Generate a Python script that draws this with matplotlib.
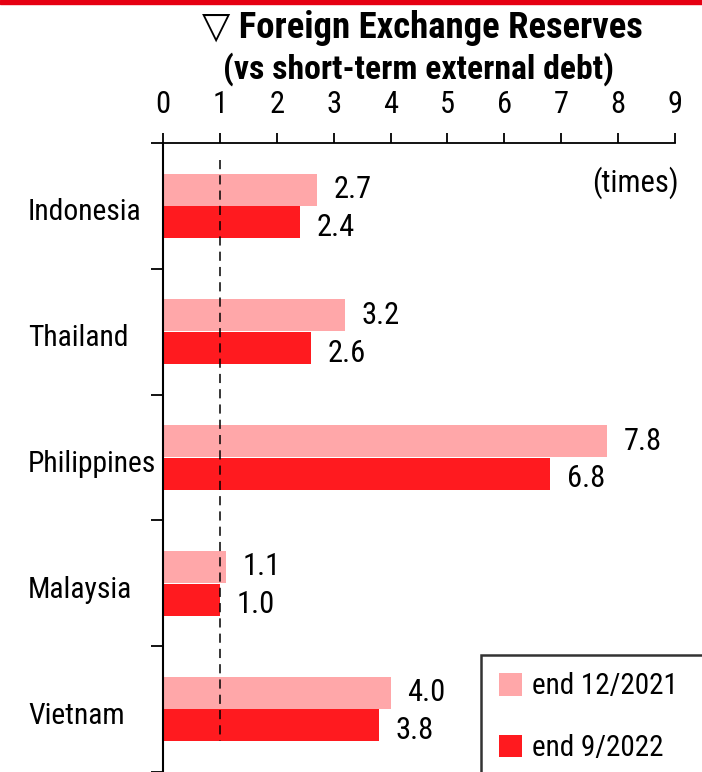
import matplotlib
matplotlib.use("Agg")
import matplotlib.pyplot as plt
from matplotlib.font_manager import fontManager
import numpy as np

names = {f.name for f in fontManager.ttflist}
prefs = ['Liberation Sans Narrow', 'Arial Narrow', 'Roboto Condensed', 'Archivo Narrow',
         'PT Sans Narrow', 'Pragati Narrow', 'Liberation Sans']
main = next(p for p in prefs if p in names)
FONT = [main, 'DejaVu Sans']
plt.rcParams['font.family'] = FONT

countries = ["Indonesia", "Thailand", "Philippines", "Malaysia", "Vietnam"]
end_2021 = [2.7, 3.2, 7.8, 1.1, 4.0]
end_2022 = [2.4, 2.6, 6.8, 1.0, 3.8]
series_labels = ["end 12/2021", "end 9/2022"]
xticks = list(range(0, 10))
title1 = "\u25bd Foreign Exchange Reserves"
title2 = "(vs short-term external debt)"
unit = "(times)"

light = "#FFA7A9"
dark = "#FF1A1F"
FS = 22

fig = plt.figure(figsize=(7.02, 7.72), dpi=100)
ax = fig.add_axes([163/702, 0.0, (675-163)/702, 1 - 143/772])

y = np.arange(len(countries))
h = 0.255
b1 = ax.barh(y - 0.13, end_2021, height=h, color=light, label=series_labels[0])
b2 = ax.barh(y + 0.13, end_2022, height=h, color=dark, label=series_labels[1])

for bars, vals, dy in ((b1, end_2021, 0.0), (b2, end_2022, 0.04)):
    for rect, v in zip(bars, vals):
        ax.annotate(f"{v:.1f}", (v, rect.get_y() + rect.get_height()/2 + dy),
                    xytext=(12, 0), textcoords="offset points",
                    ha="left", va="center", fontsize=FS)

ax.plot([1, 1], [-0.365, 4.25], color="black", lw=1.1, ls=(0, (6, 4)))

ax.set_xlim(0, 9)
ax.set_ylim(len(countries) - 0.5, -0.5)
ax.xaxis.tick_top()
ax.set_xticks(xticks)
ax.set_xticklabels([str(t) for t in xticks], fontsize=FS)
ax.tick_params(axis="x", direction="out", length=7, width=1.3, pad=10)

ax.set_yticks(np.arange(-0.5, len(countries), 1.0))
ax.set_yticklabels([])
ax.tick_params(axis="y", direction="out", length=9, width=1.3)
for i, c in enumerate(countries):
    ax.text(28/702, 1 - (143 + 126*(i + 0.5) + 6)/772, c, transform=fig.transFigure,
            ha="left", va="center", fontsize=21.3)

for s in ("right", "bottom"):
    ax.spines[s].set_visible(False)
ax.spines["top"].set_linewidth(1.3)
ax.spines["left"].set_linewidth(1.5)

ax.text(679/702, 1 - 183/772, unit, transform=fig.transFigure, ha="right", va="center", fontsize=FS)

fig.text(422/702, 1 - 28/772, title1, ha="center", va="center", fontsize=26.5, fontweight="bold")
fig.text(419/702, 1 - 69/772, title2, ha="center", va="center", fontsize=24.3, fontweight="bold")

# top red band
fig.patches.append(plt.Rectangle((0, 1 - 4/772), 1, 4/772, transform=fig.transFigure,
                                 color="#E60012", zorder=10))

leg = fig.legend(handles=[b1, b2], labels=series_labels, loc="upper left",
                 bbox_to_anchor=(481/702, 1 - 655/772, 240/702, 0), mode="expand",
                 fontsize=21, frameon=True,
                 fancybox=False, edgecolor="black", handlelength=0.8, handleheight=0.8,
                 handletextpad=0.35, labelspacing=1.15, borderpad=0.6, borderaxespad=0)
leg.get_frame().set_linewidth(1.8)

fig.savefig("out.png", dpi=100)
